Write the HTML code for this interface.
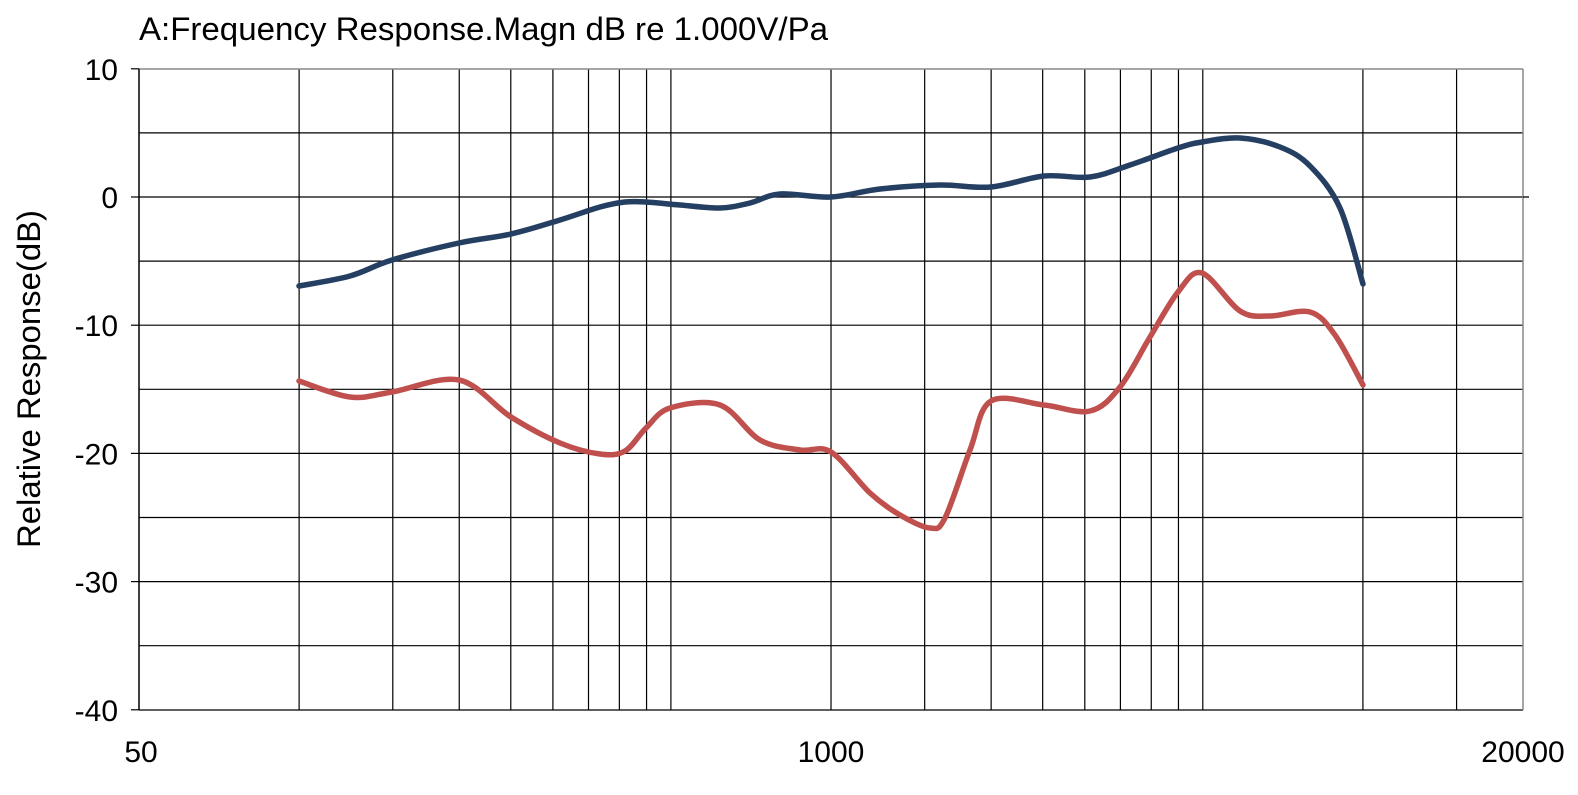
<!DOCTYPE html>
<html><head><meta charset="utf-8"><style>
html,body{margin:0;padding:0;background:#fff;}
svg text{font-family:"Liberation Sans",Arial,sans-serif;fill:#000;}
</style></head><body>
<svg id="s" width="1578" height="790" viewBox="0 0 1578 790" xmlns="http://www.w3.org/2000/svg">
<rect width="1578" height="790" fill="#fff"/>
<text x="139" y="40" font-size="32" textLength="689" lengthAdjust="spacingAndGlyphs">A:Frequency Response.Magn dB re 1.000V/Pa</text>
<g id="grid" stroke="#000" stroke-width="1.2"></g>
<line x1="139" y1="69" x2="1523" y2="69" stroke="#888" stroke-width="1.5"/>
<line x1="1523" y1="69" x2="1523" y2="710" stroke="#888" stroke-width="1.5"/>
<line x1="139" y1="69" x2="139" y2="710" stroke="#000" stroke-width="1.5"/>
<line x1="1523" y1="197" x2="1529" y2="197" stroke="#000" stroke-width="1.3"/>
<g id="lab" font-size="30" text-anchor="end"></g>
<text x="141" y="762" font-size="30" text-anchor="middle">50</text>
<text x="831" y="762" font-size="30" text-anchor="middle">1000</text>
<text x="1523" y="762" font-size="30" text-anchor="middle">20000</text>
<text transform="translate(40,379) rotate(-90)" font-size="32" text-anchor="middle" textLength="338" lengthAdjust="spacingAndGlyphs">Relative Response(dB)</text>
<path id="blue" fill="none" stroke="#243f62" stroke-width="5.5" stroke-linecap="round" stroke-linejoin="round"/>
<path id="red" fill="none" stroke="#c0504d" stroke-width="5.5" stroke-linecap="round" stroke-linejoin="round"/>
</svg>
<script>
var ns="http://www.w3.org/2000/svg";
function X(f){return 139+(Math.log10(f)-Math.log10(50))*531.9;}
function Y(d){return 197-d*12.82;}
var g=document.getElementById('grid');
function ln(x1,y1,x2,y2){var l=document.createElementNS(ns,'line');l.setAttribute('x1',x1);l.setAttribute('y1',y1);l.setAttribute('x2',x2);l.setAttribute('y2',y2);g.appendChild(l);}
for(var d=-35;d<=5;d+=5){ln(139,Y(d),1523,Y(d));}
ln(139,710,1523,710);
[100,150,200,250,300,350,400,450,500,1000,1500,2000,2500,3000,3500,4000,4500,5000,10000,15000].forEach(function(f){ln(X(f),69,X(f),710);});
var lab=document.getElementById('lab');
for(var d=-40;d<=10;d+=10){ln(131,Y(d),139,Y(d));var t=document.createElementNS(ns,'text');t.setAttribute('x',118);t.setAttribute('y',Y(d)+11);t.textContent=d;lab.appendChild(t);}
function cr(p){var s='M'+p[0][0]+','+p[0][1];for(var i=0;i<p.length-1;i++){var p0=p[i-1]||p[i],p1=p[i],p2=p[i+1],p3=p[i+2]||p2;
s+=' C'+(p1[0]+(p2[0]-p0[0])/6)+','+(p1[1]+(p2[1]-p0[1])/6)+' '+(p2[0]-(p3[0]-p1[0])/6)+','+(p2[1]-(p3[1]-p1[1])/6)+' '+p2[0]+','+p2[1];}return s;}
var b=[[299,286],[350,276],[392,260],[459,243],[511,234],[560,220],[600,207],[625,202],[646,202],[680,205],[720,208],[750,203],[780,194],[831,197],[880,189],[940,185],[991,187],[1044,176],[1090,177],[1130,165],[1178,148],[1202,142],[1240,138],[1280,147],[1310,166],[1340,208],[1363,284]];
var r=[[299,381],[350,397],[392,392],[459,380],[511,417],[560,443],[600,454],[625,451],[646,428],[670,408],[720,405],[760,440],[800,450],[831,452],[870,493],[900,515],[930,528],[945,518],[970,450],[991,401],[1044,405],[1090,411],[1120,387],[1150,337],[1178,292],[1202,273],[1240,311],[1270,316],[1310,312],[1335,335],[1363,385]];
document.getElementById('blue').setAttribute('d',cr(b));
document.getElementById('red').setAttribute('d',cr(r));
</script>
</body></html>
